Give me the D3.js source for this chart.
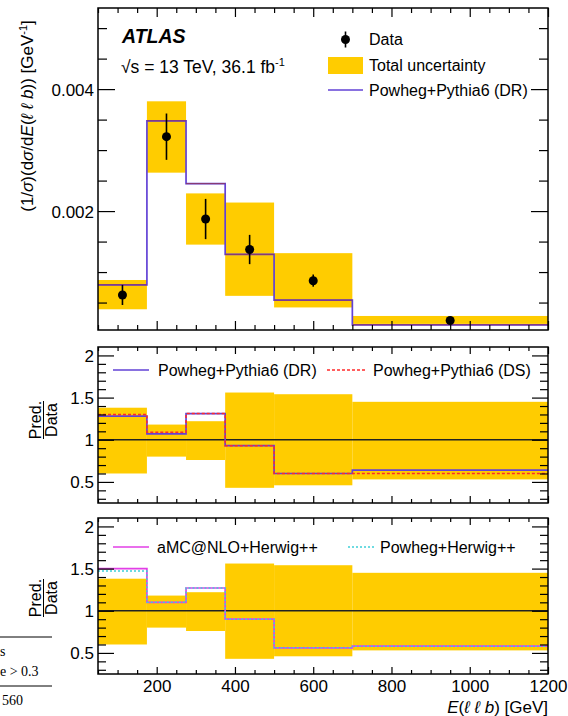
<!DOCTYPE html>
<html>
<head>
<meta charset="utf-8">
<script src="https://cdn.jsdelivr.net/npm/d3@7"></script>
<style>
  html, body { margin: 0; padding: 0; background: #fff; }
  svg { display: block; }
  text { font-family: "Liberation Sans", Arial, Helvetica, sans-serif; fill: #000; }
</style>
</head>
<body>
<svg id="chart" width="568" height="716"></svg>
<script>
// Bin edges of E(llb) in GeV
const binEdges = [50, 175, 275, 375, 500, 700, 1200];

// Normalised differential cross-section (top panel)
const dataValues = [0.000623, 0.00322, 0.00187, 0.00137, 0.000857, 0.000205];
const dataErrUp  = [0.00079, 0.00360, 0.00220, 0.00161, 0.00096, 0.000225];
const dataErrDn  = [0.00046, 0.00284, 0.00154, 0.00113, 0.00076, 0.000185];
const totUncHi   = [0.00087, 0.00380, 0.00229, 0.00214, 0.00131, 0.00028];
const totUncLo   = [0.00039, 0.00263, 0.00145, 0.00061, 0.00042, 0.00015];
const predDR     = [0.00079, 0.00348, 0.00245, 0.00129, 0.00054, 0.000135];

// Ratio panels: prediction / data
const ratioUncHi   = [1.38, 1.18, 1.22, 1.56, 1.54, 1.45];
const ratioUncLo   = [0.60, 0.80, 0.76, 0.43, 0.46, 0.53];
const ratioDR      = [1.28, 1.07, 1.31, 0.93, 0.60, 0.64];
const ratioDS      = [1.30, 1.09, 1.31, 0.93, 0.60, 0.60];
const ratioAMC     = [1.50, 1.10, 1.27, 0.90, 0.56, 0.58];
const ratioPowHerw = [1.47, 1.10, 1.27, 0.90, 0.56, 0.58];

// Tick labels
const xTickValues = [200, 400, 600, 800, 1000, 1200];
const yTopTickValues = [0.002, 0.004];
const ratioTickValues = [0.5, 1, 1.5, 2];

const YELLOW = "#ffcc00";
const C_DR = "#6242d6";
const C_DS = "#ff2a2a";
const C_AMC = "#e23fe6";
const C_PH = "#3fd0d8";

const svg = d3.select("#chart");

const x = d3.scaleLinear().domain([50, 1200]).range([98, 548]);
const yTop = d3.scaleLinear().domain([0.00005, 0.00533]).range([330, 8]);
const yMid = d3.scaleLinear().domain([0.25, 2.1]).range([503, 347]);
const yBot = d3.scaleLinear().domain([0.25, 2.1]).range([674, 518]);

const bins = d3.range(dataValues.length).map(i => ({
  lo: binEdges[i], hi: binEdges[i + 1], c: (binEdges[i] + binEdges[i + 1]) / 2, i
}));

function stepPoints(vals) {
  const pts = vals.map((v, i) => [binEdges[i], v]);
  pts.push([binEdges[binEdges.length - 1], vals[vals.length - 1]]);
  return pts;
}

function drawBands(g, y, hi, lo) {
  g.append("g").selectAll("rect").data(bins).join("rect")
    .attr("x", d => x(d.lo))
    .attr("width", d => x(d.hi) - x(d.lo))
    .attr("y", d => y(hi[d.i]))
    .attr("height", d => y(lo[d.i]) - y(hi[d.i]))
    .attr("fill", YELLOW);
}

function drawStep(g, y, vals, color, width, dash) {
  const line = d3.line().x(d => x(d[0])).y(d => y(d[1])).curve(d3.curveStepAfter);
  g.append("path")
    .attr("d", line(stepPoints(vals)))
    .attr("fill", "none")
    .attr("stroke", color)
    .attr("stroke-width", width)
    .attr("stroke-dasharray", dash || null);
}

function drawFrame(y, yMajor, yMinor, yMajLen, yMinLen, xMajLen, xMinLen, yFormat) {
  const [x0, x1] = x.range();
  const [yb, yt] = y.range();
  const g = svg.append("g");
  const xMinor = d3.range(50, 1201, 50).filter(v => !xTickValues.includes(v));

  // Left axis with labels
  const left = g.append("g").attr("transform", `translate(${x0},0)`)
    .call(d3.axisLeft(y).tickValues(yMajor).tickSizeInner(-yMajLen).tickSizeOuter(0)
      .tickPadding(4).tickFormat(yFormat));
  left.selectAll("text").style("font-size", "17px").attr("dy", "0.35em");
  g.append("g").attr("transform", `translate(${x0},0)`)
    .call(d3.axisLeft(y).tickValues(yMinor).tickSizeInner(-yMinLen).tickSizeOuter(0).tickFormat(""));
  // Right mirror ticks
  g.append("g").attr("transform", `translate(${x1},0)`)
    .call(d3.axisRight(y).tickValues(yMajor).tickSizeInner(-yMajLen).tickSizeOuter(0).tickFormat(""));
  g.append("g").attr("transform", `translate(${x1},0)`)
    .call(d3.axisRight(y).tickValues(yMinor).tickSizeInner(-yMinLen).tickSizeOuter(0).tickFormat(""));
  // Bottom and top ticks
  g.append("g").attr("transform", `translate(0,${yb})`)
    .call(d3.axisBottom(x).tickValues(xTickValues).tickSizeInner(-xMajLen).tickSizeOuter(0).tickFormat(""));
  g.append("g").attr("transform", `translate(0,${yb})`)
    .call(d3.axisBottom(x).tickValues(xMinor).tickSizeInner(-xMinLen).tickSizeOuter(0).tickFormat(""));
  g.append("g").attr("transform", `translate(0,${yt})`)
    .call(d3.axisTop(x).tickValues(xTickValues).tickSizeInner(-xMajLen).tickSizeOuter(0).tickFormat(""));
  g.append("g").attr("transform", `translate(0,${yt})`)
    .call(d3.axisTop(x).tickValues(xMinor).tickSizeInner(-xMinLen).tickSizeOuter(0).tickFormat(""));

  g.selectAll(".domain").remove();
  g.selectAll(".tick line").attr("stroke", "#000").attr("stroke-width", 1.2);

  g.append("rect")
    .attr("x", x0).attr("y", yt)
    .attr("width", x1 - x0).attr("height", yb - yt)
    .attr("fill", "none").attr("stroke", "#000").attr("stroke-width", 1.5);
  return g;
}

// ---------- Top panel ----------
const topPanel = svg.append("g");
drawBands(topPanel, yTop, totUncHi, totUncLo);
drawStep(topPanel, yTop, predDR, C_DR, 1.7);
// darker overlay on the flat parts of the prediction
topPanel.append("g").selectAll("line").data(bins).join("line")
  .attr("x1", d => x(d.lo)).attr("x2", d => x(d.hi))
  .attr("y1", d => yTop(predDR[d.i])).attr("y2", d => yTop(predDR[d.i]))
  .attr("stroke", "#8e3a66").attr("stroke-width", 1);

const pts = topPanel.append("g");
pts.selectAll("line").data(bins).join("line")
  .attr("x1", d => x(d.c)).attr("x2", d => x(d.c))
  .attr("y1", d => yTop(dataErrUp[d.i])).attr("y2", d => yTop(dataErrDn[d.i]))
  .attr("stroke", "#000").attr("stroke-width", 1.6);
pts.selectAll("circle").data(bins).join("circle")
  .attr("cx", d => x(d.c)).attr("cy", d => yTop(dataValues[d.i]))
  .attr("r", 4.5).attr("fill", "#000");

drawFrame(yTop, yTopTickValues, d3.range(0.0005, 0.00531, 0.0005).filter(v => Math.abs(v - 0.002) > 1e-9 && Math.abs(v - 0.004) > 1e-9),
  17, 9, 9, 5, d3.format(".3f"));

// Labels in top panel
svg.append("text").attr("x", 122).attr("y", 43)
  .style("font-size", "19.5px").style("font-weight", "bold").style("font-style", "italic")
  .text("ATLAS");
const lumi = svg.append("text").attr("x", 121).attr("y", 73).style("font-size", "17.5px");
lumi.append("tspan").text("√s = 13 TeV, 36.1 fb");
lumi.append("tspan").attr("dy", -7).style("font-size", "11px").text("-1");

// Legend (top)
svg.append("line").attr("x1", 345.5).attr("x2", 345.5).attr("y1", 31.5).attr("y2", 47.5)
  .attr("stroke", "#000").attr("stroke-width", 1.6);
svg.append("circle").attr("cx", 345.5).attr("cy", 39.5).attr("r", 4.5).attr("fill", "#000");
svg.append("text").attr("x", 369).attr("y", 45).style("font-size", "16px").text("Data");
svg.append("rect").attr("x", 328).attr("y", 57).attr("width", 35).attr("height", 17).attr("fill", YELLOW);
svg.append("text").attr("x", 369).attr("y", 71).style("font-size", "16px").text("Total uncertainty");
svg.append("line").attr("x1", 328).attr("x2", 363).attr("y1", 90).attr("y2", 90)
  .attr("stroke", C_DR).attr("stroke-width", 1.7);
svg.append("text").attr("x", 369).attr("y", 96).style("font-size", "16px").text("Powheg+Pythia6 (DR)");

// Y axis title (top)
const yTitle = svg.append("text")
  .attr("transform", "translate(33,116) rotate(-90)")
  .attr("text-anchor", "middle").style("font-size", "17px");
yTitle.append("tspan").text("(1/");
yTitle.append("tspan").style("font-style", "italic").text("σ");
yTitle.append("tspan").text(")(d");
yTitle.append("tspan").style("font-style", "italic").text("σ");
yTitle.append("tspan").text("/d");
yTitle.append("tspan").style("font-style", "italic").text("E");
yTitle.append("tspan").text("(");
yTitle.append("tspan").style("font-style", "italic").text("ℓ ℓ b");
yTitle.append("tspan").text(")) [GeV");
yTitle.append("tspan").attr("dy", -6).style("font-size", "11px").text("-1");
yTitle.append("tspan").attr("dy", 6).text("]");

// ---------- Ratio panels ----------
function ratioPanel(y, series, legend, labelY) {
  const g = svg.append("g");
  drawBands(g, y, ratioUncHi, ratioUncLo);
  g.append("line").attr("x1", x.range()[0]).attr("x2", x.range()[1])
    .attr("y1", y(1)).attr("y2", y(1)).attr("stroke", "#222").attr("stroke-width", 1.4);
  series.forEach(s => drawStep(g, y, s.values, s.color, s.width, s.dash));
  drawFrame(y, ratioTickValues,
    d3.range(0.3, 2.05, 0.1).filter(v => !ratioTickValues.some(t => Math.abs(t - v) < 1e-6)),
    16, 8, 7, 4, d3.format(""));

  legend.forEach(l => {
    svg.append("line").attr("x1", l.x1).attr("x2", l.x2).attr("y1", l.y).attr("y2", l.y)
      .attr("stroke", l.color).attr("stroke-width", l.width).attr("stroke-dasharray", l.dash || null);
    svg.append("text").attr("x", l.tx).attr("y", l.y + 6).style("font-size", "16px").text(l.text);
  });

  const lab = svg.append("g").attr("transform", `translate(43.5,${labelY}) rotate(-90)`);
  lab.append("text").attr("text-anchor", "middle").attr("y", -2.5).style("font-size", "16px").text("Pred.");
  lab.append("line").attr("x1", -19).attr("x2", 19).attr("y1", 0).attr("y2", 0)
    .attr("stroke", "#000").attr("stroke-width", 1);
  lab.append("text").attr("text-anchor", "middle").attr("y", 13).style("font-size", "16px").text("Data");
  return g;
}

ratioPanel(yMid, [
  { values: ratioDR, color: C_DR, width: 1.7 },
  { values: ratioDS, color: C_DS, width: 1.5, dash: "3,2" }
], [
  { x1: 113, x2: 149, y: 370, color: C_DR, width: 1.7, tx: 158, text: "Powheg+Pythia6 (DR)" },
  { x1: 327, x2: 365, y: 370, color: C_DS, width: 1.5, dash: "3,2", tx: 373, text: "Powheg+Pythia6 (DS)" }
], 420);

ratioPanel(yBot, [
  { values: ratioAMC, color: C_AMC, width: 1.7 },
  { values: ratioPowHerw, color: C_PH, width: 1.5, dash: "2,2" }
], [
  { x1: 113, x2: 149, y: 547, color: C_AMC, width: 1.7, tx: 157, text: "aMC@NLO+Herwig++" },
  { x1: 348, x2: 374, y: 547, color: C_PH, width: 1.5, dash: "2,2", tx: 380, text: "Powheg+Herwig++" }
], 598);

// X tick labels under the bottom panel
svg.append("g").attr("transform", `translate(0,${yBot.range()[0]})`)
  .call(d3.axisBottom(x).tickValues(xTickValues).tickSize(0).tickPadding(6).tickFormat(d3.format("")))
  .call(g => g.select(".domain").remove())
  .selectAll("text").style("font-size", "17px");

// X axis title
const xTitle = svg.append("text").attr("x", 548).attr("y", 713)
  .attr("text-anchor", "end").style("font-size", "17px");
xTitle.append("tspan").style("font-style", "italic").text("E");
xTitle.append("tspan").text("(");
xTitle.append("tspan").style("font-style", "italic").text("ℓ ℓ b");
xTitle.append("tspan").text(") [GeV]");

// Table fragment at the lower left edge
const frag = svg.append("g");
frag.append("line").attr("x1", 0).attr("x2", 52).attr("y1", 637).attr("y2", 637).attr("stroke", "#000").attr("stroke-width", 1);
frag.append("line").attr("x1", 0).attr("x2", 52).attr("y1", 686).attr("y2", 686).attr("stroke", "#000").attr("stroke-width", 1);
[["s", 0, 656], ["e > 0.3", 0, 676], ["560", 2, 705]].forEach(([t, tx, ty]) => {
  frag.append("text").attr("x", tx).attr("y", ty)
    .style("font-family", "'Liberation Serif', 'Times New Roman', serif").style("font-size", "14px").text(t);
});
</script>
</body>
</html>
